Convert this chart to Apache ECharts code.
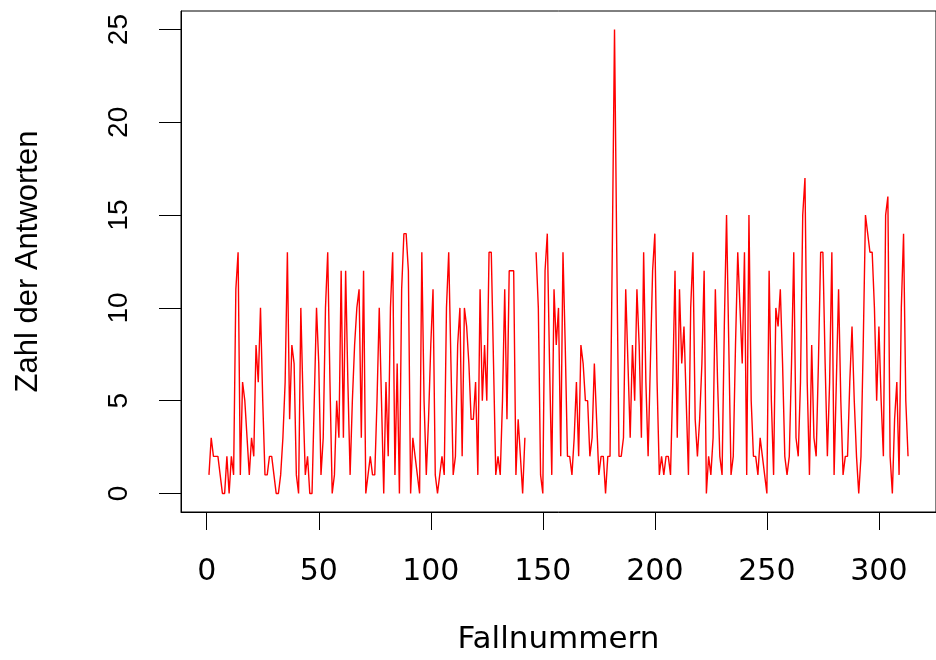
<!DOCTYPE html>
<html>
<head>
<meta charset="utf-8">
<script src="https://cdn.jsdelivr.net/npm/echarts@6/dist/echarts.min.js"></script>
<style>html,body{margin:0;padding:0;background:#fff;}#c{width:936px;height:660px;}</style>
</head>
<body>
<div id="c"></div>
<script>
// Number of answers per case (case numbers 1..313), null = missing
const seg1 = [1,3,2,2,2,1,0,0,2,0,2,1,11,13,1,6,5,3,1,3,2,8,6,10,5,1,1,2,2,1,0,0];
const seg2 = [1,3,6,13,4,8,7,1,0,10,5,1,2,0,0,5,10,7,1,3,10,13,6,0,1,5,3,12,3,12,6,1,5,8];
const seg3 = [10,11,3,12,0,1,2,1,1,5,10,5,0,6,2,10,13,1,7,0,11,14,14,12,0,3,2,1,0,13,5,1,4,8,11];
const seg4 = [1,0,1,2,1,10,13,7,1,2,8,10,2,10,9,7,4,4,6,1,11,5,8,5,13,13,7,1,2,1,5,11,4,12];
const seg5 = [12,12,1,4,2,0,3,null,null,null,null,13,10,1,0,12,14,7,1,11,8,10,2,13,8,2,2,1,3,6,2,8,7,5];
const seg6 = [5,2,3,7,4,1,2,2,0,2,2,13,25,13,2,2,3,11,7,3,8,5,11,8,3,13,6,2,7,12,14,6,1,2,1,2];
const seg7 = [2,1,6,12,3,11,7,9,5,1,10,13,4,2,4,7,12,0,2,1,3,11,6,2,1,9,15,8,1,2,8,13,10,7];
const seg8 = [13,1,15,5,2,2,1,3,2,1,0,12,5,1,10,9,11,7,2,1,2,7,13,3,2,6,15,17,6,1,8,3,2,7];
const seg9 = [13,13,7,2,6,13,1,6,11,5,1,2,2,6,9,5,2,0,2,8,15,14,13,13,10,5,9,5,2,15,16,2,0,4,6,1,10,14,5,2];
const answers = [].concat(seg1, seg2, seg3, seg4, seg5, seg6, seg7, seg8, seg9);
const xTicks = [0, 50, 100, 150, 200, 250, 300];
const yTicks = [0, 5, 10, 15, 20, 25];
const xTitle = 'Fallnummern';
const yTitle = 'Zahl der Antworten';

const data = answers.map((v, i) => [i + 1, v]);
const chart = echarts.init(document.getElementById('c'), null, {renderer: 'canvas'});
chart.setOption({
  animation: false,
  backgroundColor: '#ffffff',
  grid: {left: 181, top: 11, width: 766, height: 501, show: true, borderColor: '#000', borderWidth: 1, backgroundColor: 'transparent'},
  xAxis: {
    type: 'value', min: -11.48, max: 325.48,
    splitLine: {show: false},
    axisLine: {show: true, onZero: false, lineStyle: {color: '#000', width: 1}},
    axisTick: {show: true, inside: false, length: 18, lineStyle: {color: '#000', width: 1}, customValues: xTicks},
    axisLabel: {customValues: xTicks, inside: false, color: '#000', fontFamily: 'DejaVu Sans', fontSize: 30, margin: 45, hideOverlap: false},
    name: xTitle, nameLocation: 'middle', nameGap: 112,
    nameTextStyle: {color: '#000', fontFamily: 'DejaVu Sans', fontSize: 31}
  },
  yAxis: {
    type: 'value', min: -1, max: 26,
    splitLine: {show: false},
    axisLine: {show: true, onZero: false, lineStyle: {color: '#000', width: 1}},
    axisTick: {show: true, inside: false, length: 22, lineStyle: {color: '#000', width: 1}, customValues: yTicks},
    axisLabel: {customValues: yTicks, inside: false, rotate: 90, color: '#000', fontFamily: 'Liberation Sans', fontSize: 28, margin: 48},
    name: yTitle, nameLocation: 'middle', nameGap: 137, nameRotate: 90,
    nameTextStyle: {color: '#000', fontFamily: 'Liberation Sans', fontSize: 31}
  },
  series: [{
    type: 'line', data: data, symbol: 'none', connectNulls: false,
    lineStyle: {color: '#ff0000', width: 1.4}, silent: true
  }]
});
</script>
</body>
</html>
